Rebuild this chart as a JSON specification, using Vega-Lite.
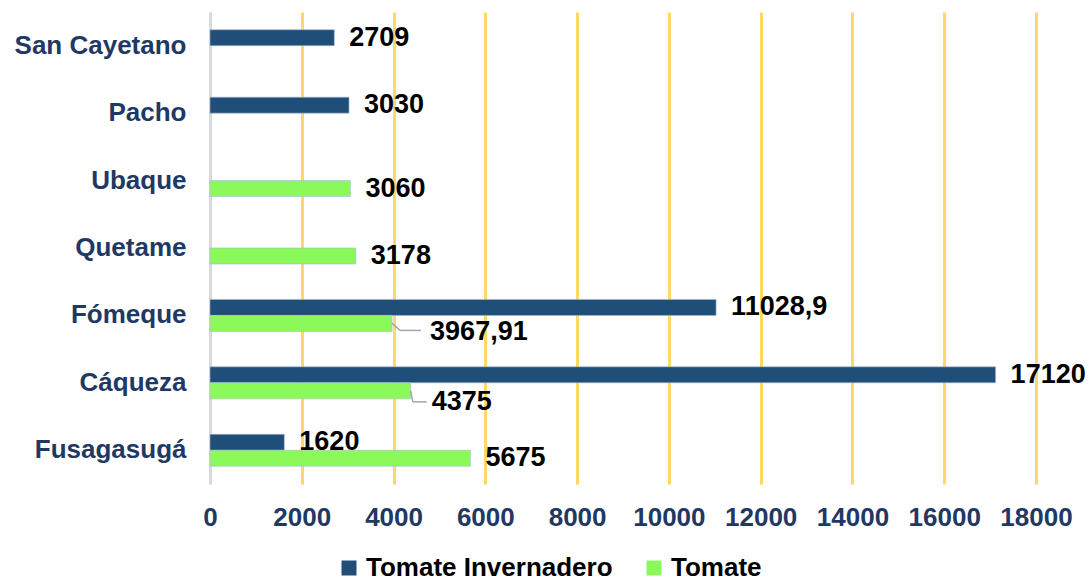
{
  "$schema": "https://vega.github.io/schema/vega-lite/v6.json",
  "autosize": {"type": "none"},
  "padding": {"left": 210, "top": 12, "right": 54, "bottom": 98},
  "width": 826,
  "height": 472,
  "background": "white",
  "config": {
    "view": {"stroke": null},
    "font": "Liberation Sans",
    "locale": {"number": {"decimal": ",", "thousands": ".", "grouping": [3], "currency": ["$", ""]}}
  },
  "data": {
    "values": [
      {"Municipio": "San Cayetano", "Serie": "Tomate Invernadero", "valor": 2709},
      {"Municipio": "Pacho", "Serie": "Tomate Invernadero", "valor": 3030},
      {"Municipio": "Ubaque", "Serie": "Tomate", "valor": 3060},
      {"Municipio": "Quetame", "Serie": "Tomate", "valor": 3178},
      {"Municipio": "Fómeque", "Serie": "Tomate Invernadero", "valor": 11028.9},
      {"Municipio": "Fómeque", "Serie": "Tomate", "valor": 3967.91},
      {"Municipio": "Cáqueza", "Serie": "Tomate Invernadero", "valor": 17120},
      {"Municipio": "Cáqueza", "Serie": "Tomate", "valor": 4375},
      {"Municipio": "Fusagasugá", "Serie": "Tomate Invernadero", "valor": 1620},
      {"Municipio": "Fusagasugá", "Serie": "Tomate", "valor": 5675}
    ]
  },
  "layer": [
    {
      "mark": {"type": "bar", "stroke": "#A9BCD6", "strokeWidth": 0.6},
      "encoding": {
        "y": {
          "field": "Municipio", "type": "nominal",
          "sort": ["San Cayetano", "Pacho", "Ubaque", "Quetame", "Fómeque", "Cáqueza", "Fusagasugá"],
          "scale": {"paddingInner": 0.5254, "paddingOuter": 0.2627},
          "axis": {
            "title": null, "domain": true, "domainColor": "#D9D9D9", "domainWidth": 2,
            "ticks": false, "labelPadding": 24, "labelFontSize": 26, "labelFontWeight": "bold",
            "labelColor": "#1F3864", "grid": false, "labelLimit": 300
          }
        },
        "yOffset": {
          "field": "Serie", "type": "nominal",
          "scale": {"domain": ["Tomate Invernadero", "Tomate"], "paddingInner": 0, "paddingOuter": 0}
        },
        "x": {
          "field": "valor", "type": "quantitative",
          "scale": {"domain": [0, 18000], "nice": false},
          "axis": {
            "title": null, "values": [0, 2000, 4000, 6000, 8000, 10000, 12000, 14000, 16000, 18000],
            "format": "d", "domain": false, "ticks": false, "labelPadding": 20,
            "labelFontSize": 26, "labelFontWeight": "bold", "labelColor": "#1F3864",
            "grid": true, "gridWidth": 3, "labelFlush": false, "labelOverlap": false,
            "gridColor": {"condition": {"test": "datum.value === 0", "value": "#D9D9D9"}, "value": "#FFD966"}
          }
        },
        "color": {
          "field": "Serie", "type": "nominal",
          "scale": {"domain": ["Tomate Invernadero", "Tomate"], "range": ["#1F4E79", "#8CF95A"]},
          "legend": {
            "title": null, "orient": "none", "direction": "horizontal",
            "legendX": 126, "legendY": 543, "symbolType": "square", "symbolSize": 225,
            "symbolStrokeWidth": 0, "labelFontSize": 26, "labelFontWeight": "bold",
            "labelColor": "#000000", "columnPadding": 28, "labelOffset": 4, "labelLimit": 400
          }
        }
      }
    },
    {
      "transform": [{"filter": "!(datum.Serie == 'Tomate' && (datum.Municipio == 'Fómeque' || datum.Municipio == 'Cáqueza'))"}],
      "mark": {"type": "text", "align": "left", "baseline": "middle", "dx": 15, "fontSize": 27, "fontWeight": "bold", "color": "#000000"},
      "encoding": {
        "y": {"field": "Municipio", "type": "nominal", "sort": ["San Cayetano", "Pacho", "Ubaque", "Quetame", "Fómeque", "Cáqueza", "Fusagasugá"]},
        "yOffset": {"field": "Serie", "type": "nominal", "scale": {"domain": ["Tomate Invernadero", "Tomate"], "paddingInner": 0, "paddingOuter": 0}},
        "x": {"field": "valor", "type": "quantitative"},
        "text": {"field": "valor", "type": "quantitative", "format": "~f"}
      }
    },
    {
      "transform": [{"filter": "datum.Serie == 'Tomate' && datum.Municipio == 'Fómeque'"}],
      "mark": {"type": "text", "align": "left", "baseline": "middle", "dx": 38, "dy": 9, "fontSize": 27, "fontWeight": "bold", "color": "#000000"},
      "encoding": {
        "y": {"field": "Municipio", "type": "nominal", "sort": ["San Cayetano", "Pacho", "Ubaque", "Quetame", "Fómeque", "Cáqueza", "Fusagasugá"]},
        "yOffset": {"field": "Serie", "type": "nominal", "scale": {"domain": ["Tomate Invernadero", "Tomate"], "paddingInner": 0, "paddingOuter": 0}},
        "x": {"field": "valor", "type": "quantitative"},
        "text": {"field": "valor", "type": "quantitative", "format": "~f"}
      }
    },
    {
      "transform": [{"filter": "datum.Serie == 'Tomate' && datum.Municipio == 'Cáqueza'"}],
      "mark": {"type": "text", "align": "left", "baseline": "middle", "dx": 21, "dy": 11, "fontSize": 27, "fontWeight": "bold", "color": "#000000"},
      "encoding": {
        "y": {"field": "Municipio", "type": "nominal", "sort": ["San Cayetano", "Pacho", "Ubaque", "Quetame", "Fómeque", "Cáqueza", "Fusagasugá"]},
        "yOffset": {"field": "Serie", "type": "nominal", "scale": {"domain": ["Tomate Invernadero", "Tomate"], "paddingInner": 0, "paddingOuter": 0}},
        "x": {"field": "valor", "type": "quantitative"},
        "text": {"field": "valor", "type": "quantitative", "format": "~f"}
      }
    },
    {
      "transform": [{"filter": "datum.Serie == 'Tomate' && datum.Municipio == 'Fómeque'"}],
      "mark": {"type": "rule", "color": "#A6A6A6", "strokeWidth": 1.5, "xOffset": 0, "x2Offset": 8, "yOffset": 8, "y2Offset": 15},
      "encoding": {
        "y": {"field": "Municipio", "type": "nominal", "sort": ["San Cayetano", "Pacho", "Ubaque", "Quetame", "Fómeque", "Cáqueza", "Fusagasugá"]},
        "y2": {"field": "Municipio"},
        "x": {"field": "valor", "type": "quantitative"},
        "x2": {"field": "valor"}
      }
    },
    {
      "transform": [{"filter": "datum.Serie == 'Tomate' && datum.Municipio == 'Fómeque'"}],
      "mark": {"type": "rule", "color": "#A6A6A6", "strokeWidth": 1.5, "xOffset": 8, "x2Offset": 29, "yOffset": 15, "y2Offset": 15},
      "encoding": {
        "y": {"field": "Municipio", "type": "nominal", "sort": ["San Cayetano", "Pacho", "Ubaque", "Quetame", "Fómeque", "Cáqueza", "Fusagasugá"]},
        "y2": {"field": "Municipio"},
        "x": {"field": "valor", "type": "quantitative"},
        "x2": {"field": "valor"}
      }
    },
    {
      "transform": [{"filter": "datum.Serie == 'Tomate' && datum.Municipio == 'Cáqueza'"}],
      "mark": {"type": "rule", "color": "#A6A6A6", "strokeWidth": 1.5, "xOffset": 0, "x2Offset": 2, "yOffset": 8, "y2Offset": 19},
      "encoding": {
        "y": {"field": "Municipio", "type": "nominal", "sort": ["San Cayetano", "Pacho", "Ubaque", "Quetame", "Fómeque", "Cáqueza", "Fusagasugá"]},
        "y2": {"field": "Municipio"},
        "x": {"field": "valor", "type": "quantitative"},
        "x2": {"field": "valor"}
      }
    },
    {
      "transform": [{"filter": "datum.Serie == 'Tomate' && datum.Municipio == 'Cáqueza'"}],
      "mark": {"type": "rule", "color": "#A6A6A6", "strokeWidth": 1.5, "xOffset": 2, "x2Offset": 16, "yOffset": 19, "y2Offset": 19},
      "encoding": {
        "y": {"field": "Municipio", "type": "nominal", "sort": ["San Cayetano", "Pacho", "Ubaque", "Quetame", "Fómeque", "Cáqueza", "Fusagasugá"]},
        "y2": {"field": "Municipio"},
        "x": {"field": "valor", "type": "quantitative"},
        "x2": {"field": "valor"}
      }
    }
  ]
}
